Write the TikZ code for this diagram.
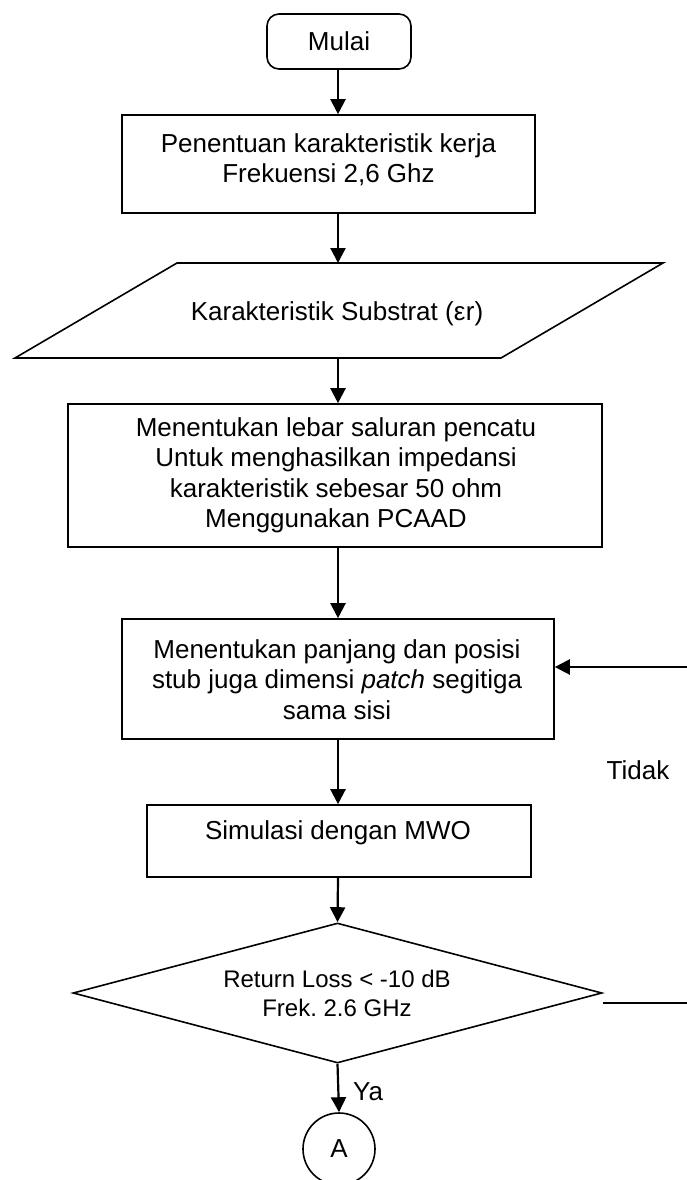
\documentclass[tikz,border=0pt]{standalone}
\usepackage{fontspec}
\setmainfont{Liberation Sans}
\usetikzlibrary{arrows.meta,calc,shapes.geometric}
\frenchspacing

\begin{document}
\begin{tikzpicture}[x=1pt,y=-1pt,
  boxline/.style={draw=black,line width=1.6pt,inner sep=0pt},
  txt/.style={font=\fontsize{26}{30.5}\selectfont,align=center,inner sep=0pt},
  dtxt/.style={font=\fontsize{24}{29}\selectfont,align=center,inner sep=0pt},
  flow/.style={line width=2.2pt,-{Triangle[length=15pt,width=15pt]}},
  plainline/.style={line width=1.6pt},
]
\useasboundingbox (0,0) rectangle (686,1180);
\coordinate (ax) at (338,0);

% start
\node[boxline, rounded corners=12pt, minimum width=144pt, minimum height=55pt, txt] (mulai) at (339,41.5) {Mulai};

% box 1
\node[boxline, minimum width=413pt, minimum height=98pt] (box1) at (328.5,164) {};
\node[txt, anchor=north] (t1) at (328.5,133) {Penentuan karakteristik kerja\\Frekuensi 2,6 Ghz};

% parallelogram
\draw[plainline] (177,263) -- (663,263) -- (501,358) -- (15,358) -- cycle;
\coordinate (paratop) at (338,263);
\coordinate (parabot) at (338,358);
\node[txt, anchor=base] (tpara) at (337,320) {Karakteristik Substrat (ε\kern0.5pt r)};

% box 2
\node[boxline, minimum width=534pt, minimum height=143pt] (box2) at (335,475.5) {};
\node[txt, anchor=north] (t2) at (336,417) {Menentukan lebar saluran pencatu\\Untuk menghasilkan impedansi\\karakteristik sebesar 50 ohm\\Menggunakan PCAAD};

% box 3
\node[boxline, minimum width=432pt, minimum height=120pt] (box3) at (338,679) {};
\node[txt, anchor=north] (t3) at (337,639) {Menentukan panjang dan posisi\\stub juga dimensi \textit{patch} segitiga\\sama sisi};

% box 4
\node[boxline, minimum width=384pt, minimum height=72pt] (box4) at (339,841) {};
\node[txt, anchor=base] (t4) at (338,839) {Simulasi dengan MWO};

% decision
\node[diamond, draw=black, line width=1.6pt, inner sep=0pt, minimum width=529pt, minimum height=140pt] (dia) at (337.5,993) {};
\node[dtxt, anchor=north] (tdia) at (337,969.5) {Return Loss < -10 dB\\Frek. 2.6 GHz};

% connector A
\node[draw=black, line width=1.6pt, circle, minimum size=72pt, inner sep=0pt, txt] (circA) at (339,1149) {A};

% arrows
\draw[flow] (mulai.south -| ax) -- (box1.north -| ax);
\draw[flow] (box1.south -| ax) -- (paratop);
\draw[flow] (parabot) -- (box2.north -| parabot);
\draw[flow] (box2.south -| ax) -- (box3.north -| ax);
\draw[flow] (box3.south -| ax) -- (box4.north -| ax);
\draw[flow] (box4.south -| ax) -- (dia.north);
\draw[flow] (dia.south) -- (circA.north);
\node[txt, anchor=west] (ya) at (353,1092) {Ya};

% feedback (Tidak)
\coordinate (fbr) at (700,1003);
\coordinate (fbtop) at (700,667);
\draw[plainline] ($(dia.east)+(0,10)$) -- (fbr) -- (fbtop);
\draw[flow] (fbtop) -- (box3.east |- fbtop);
\node[txt] (tidak) at (638,770) {Tidak};
\end{tikzpicture}
\end{document}
